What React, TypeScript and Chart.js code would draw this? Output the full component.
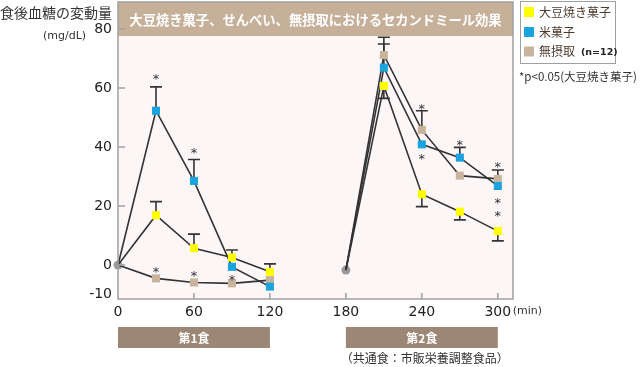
import { useEffect, useRef } from "react";
import { Chart, registerables } from "chart.js";

Chart.register(...registerables);

// ---- data ----
const mealTimes1 = [0, 30, 60, 90, 120];
const mealTimes2 = [180, 210, 240, 270, 300];
const xTickValues = [0, 60, 120, 180, 240, 300];
const yTickValues = [-10, 0, 20, 40, 60, 80];

const seriesNames = ["大豆焼き菓子", "米菓子", "無摂取"];
const seriesColors = ["#ffff00", "#1aa3df", "#c8b49c"];

const soyMeal1 = [0, 16.9, 5.7, 2.6, -2.3];
const soyMeal2 = [-1.7, 60.7, 24.0, 18.1, 11.5];
const riceMeal1 = [0, 52.3, 28.5, -0.6, -7.3];
const riceMeal2 = [-1.7, 66.9, 40.9, 36.4, 26.8];
const noneMeal1 = [0, -4.5, -5.9, -6.2, -5.1];
const noneMeal2 = [-1.7, 71.2, 45.8, 30.3, 29.2];

// error bars: positive = drawn upward, negative = drawn downward
const soyErr1 = [null, 4.6, 4.8, 2.5, 2.7];
const soyErr2 = [null, -4.2, -4.2, -2.8, -3.3];
const riceErr1 = [null, 8.1, 7.3, null, null];
const riceErr2 = [null, 8.0, null, 3.5, null];
const noneErr1 = [null, null, null, null, null];
const noneErr2 = [null, 6.0, 6.5, null, 3.0];

const baselineTimes = [0, 180];
const baselineValues = [0, -1.7];

// significance markers (*)
const sigTimes = [30, 60, 30, 60, 90, 240, 240, 270, 300, 300, 300];
const sigValues = [64.4, 39.0, -1.1, -2.5, -4.0, 54.2, 37.3, 41.8, 34.5, 22.3, 17.7];

const mealLabels = ["第1食", "第2食"];
const mealStarts = [0, 180];
const mealEnds = [120, 300];

const titleText = "大豆焼き菓子、せんべい、無摂取におけるセカンドミール効果";
const yTitle = "食後血糖の変動量";
const yUnit = "(mg/dL)";
const noteText = "*p<0.05(大豆焼き菓子)";
const nText = "(n=12)";
const xUnit = "(min)";
const footText = "（共通食：市販栄養調整食品）";

const meal1Series = [soyMeal1, riceMeal1, noneMeal1];
const meal2Series = [soyMeal2, riceMeal2, noneMeal2];
const err1Series = [soyErr1, riceErr1, noneErr1];
const err2Series = [soyErr2, riceErr2, noneErr2];

const JP = '"Noto Sans CJK JP", "Noto Sans", sans-serif';
const NUM = '"DejaVu Sans", sans-serif';

function buildPoints(a: number[], b: number[]) {
  const pts: { x: number; y: number | null }[] = [];
  mealTimes1.forEach((t, i) => pts.push({ x: t, y: a[i] }));
  pts.push({ x: (mealTimes1[mealTimes1.length - 1] + mealTimes2[0]) / 2, y: null });
  mealTimes2.forEach((t, i) => pts.push({ x: t, y: b[i] }));
  return pts;
}

const decor = {
  id: "decor",
  beforeDraw(chart: any) {
    const { ctx, chartArea: a } = chart;
    ctx.save();
    ctx.fillStyle = "#fdf6f7";
    ctx.fillRect(a.left, 2, a.right - a.left, a.bottom - 2);
    ctx.restore();
  },
  beforeDatasetsDraw(chart: any) {
    const { ctx } = chart;
    const xs = chart.scales.x;
    const ys = chart.scales.y;
    ctx.save();
    ctx.strokeStyle = "#333";
    ctx.lineWidth = 1.6;
    const drawErr = (times: number[], vals: number[], errs: (number | null)[]) => {
      times.forEach((t, i) => {
        const e = errs[i];
        if (e === null || e === undefined) return;
        const x = xs.getPixelForValue(t);
        const y0 = ys.getPixelForValue(vals[i]);
        const y1 = ys.getPixelForValue(vals[i] + e);
        ctx.beginPath();
        ctx.moveTo(x, y0);
        ctx.lineTo(x, y1);
        ctx.moveTo(x - 6, y1);
        ctx.lineTo(x + 6, y1);
        ctx.stroke();
      });
    };
    for (let s = 0; s < 3; s++) {
      drawErr(mealTimes1, meal1Series[s], err1Series[s]);
      drawErr(mealTimes2, meal2Series[s], err2Series[s]);
    }
    ctx.restore();
  },
  afterDatasetsDraw(chart: any) {
    const { ctx, chartArea: a } = chart;
    const xs = chart.scales.x;
    const ys = chart.scales.y;
    ctx.save();
    // title band
    ctx.fillStyle = "#c6b09a";
    ctx.fillRect(a.left, 2, a.right - a.left, 34);
    ctx.fillStyle = "#ffffff";
    ctx.font = `bold 13.3px ${JP}`;
    ctx.textAlign = "center";
    ctx.textBaseline = "middle";
    ctx.fillText(titleText, (a.left + a.right) / 2, 20);
    // box
    ctx.strokeStyle = "#a0a0a0";
    ctx.lineWidth = 1.5;
    ctx.strokeRect(a.left, 2, a.right - a.left, a.bottom - 2);
    // inner ticks
    ctx.beginPath();
    yTickValues.forEach((v) => {
      if (v === yTickValues[0]) return;
      const y = ys.getPixelForValue(v);
      ctx.moveTo(a.left, y);
      ctx.lineTo(a.left + 7, y);
    });
    xTickValues.forEach((v) => {
      if (v === xTickValues[0]) return;
      const x = xs.getPixelForValue(v);
      ctx.moveTo(x, a.bottom);
      ctx.lineTo(x, a.bottom - 6);
    });
    ctx.stroke();
    // asterisks
    ctx.fillStyle = "#333";
    ctx.font = `13px ${NUM}`;
    ctx.textAlign = "center";
    ctx.textBaseline = "alphabetic";
    sigTimes.forEach((t, i) => {
      const x = xs.getPixelForValue(t);
      const y = ys.getPixelForValue(sigValues[i]);
      ctx.fillText("*", x, y + 7.5);
    });
    ctx.restore();
  },
  afterDraw(chart: any) {
    const { ctx } = chart;
    const xs = chart.scales.x;
    ctx.save();
    // left titles
    ctx.fillStyle = "#333";
    ctx.textBaseline = "middle";
    ctx.textAlign = "left";
    ctx.font = `14px ${JP}`;
    ctx.fillText(yTitle, 0, 13);
    ctx.font = `11px ${NUM}`;
    ctx.fillText(yUnit, 43, 36);
    // x unit
    ctx.font = `11px ${NUM}`;
    ctx.fillText(xUnit, xs.getPixelForValue(xTickValues[xTickValues.length - 1]) + 15, 311);
    // legend
    ctx.strokeStyle = "#a0a0a0";
    ctx.lineWidth = 1;
    ctx.strokeRect(520.5, 1.5, 95, 62);
    const ly = [12, 32, 51.5];
    seriesNames.forEach((n, i) => {
      ctx.fillStyle = seriesColors[i];
      ctx.fillRect(524, ly[i] - 5, 10, 10);
      ctx.fillStyle = "#4a3a2e";
      ctx.font = `12px ${JP}`;
      ctx.fillText(n, 539, ly[i]);
    });
    ctx.fillStyle = "#222";
    ctx.font = `bold 9.5px ${NUM}`;
    ctx.fillText(nText, 581, ly[2] + 1);
    // note
    ctx.fillStyle = "#333";
    ctx.font = `11.5px ${JP}`;
    ctx.fillText(noteText, 519, 77);
    // meal bars
    mealLabels.forEach((m, i) => {
      const x0 = xs.getPixelForValue(mealStarts[i]);
      const x1 = xs.getPixelForValue(mealEnds[i]);
      ctx.fillStyle = "#9c8676";
      ctx.fillRect(x0, 327, x1 - x0, 21);
      ctx.fillStyle = "#ffffff";
      ctx.font = `bold 12px ${JP}`;
      ctx.textAlign = "center";
      ctx.fillText(m, (x0 + x1) / 2, 338);
    });
    // footnote
    ctx.fillStyle = "#333";
    ctx.font = `12px ${JP}`;
    ctx.textAlign = "center";
    const fx = (xs.getPixelForValue(mealStarts[1]) + xs.getPixelForValue(mealEnds[1])) / 2 + 3;
    ctx.fillText(footText, fx, 358);
    ctx.restore();
  },
};

export default function App() {
  const ref = useRef<HTMLCanvasElement | null>(null);
  useEffect(() => {
    if (!ref.current) return;
    const isBase = (c: any) => c.raw && baselineTimes.includes(c.raw.x);
    const datasets: any[] = seriesNames.map((name, s) => ({
      label: name,
      data: buildPoints(meal1Series[s], meal2Series[s]),
      borderColor: "#333",
      borderWidth: 1.6,
      backgroundColor: seriesColors[s],
      pointBackgroundColor: seriesColors[s],
      pointBorderWidth: 0,
      pointStyle: "rect",
      pointRadius: (c: any) => (isBase(c) ? 0 : 5.7),
      pointHoverRadius: (c: any) => (isBase(c) ? 0 : 5.7),
      spanGaps: false,
      tension: 0,
      clip: false,
    }));
    datasets.push({
      label: "baseline",
      data: baselineTimes.map((t, i) => ({ x: t, y: baselineValues[i] })),
      showLine: false,
      pointStyle: "circle",
      pointRadius: 4.5,
      pointBackgroundColor: "#9a9a9a",
      pointBorderWidth: 0,
      clip: false,
    });
    const chart = new Chart(ref.current, {
      type: "line",
      data: { datasets },
      plugins: [decor],
      options: {
        animation: false,
        responsive: false,
        layout: { padding: { left: 0, right: 128, top: 29, bottom: 0 } },
        plugins: { legend: { display: false }, tooltip: { enabled: false } },
        scales: {
          x: {
            type: "linear",
            min: 0,
            max: 312,
            afterBuildTicks: (s: any) => {
              s.ticks = xTickValues.map((v) => ({ value: v }));
            },
            afterFit: (s: any) => {
              s.height = 68;
            },
            grid: { display: false, drawTicks: false },
            border: { display: false },
            ticks: {
              padding: 5,
              color: "#222",
              font: { family: NUM, size: 14 },
              maxRotation: 0,
              autoSkip: false,
              callback: (v: any) => String(v),
            },
          },
          y: {
            type: "linear",
            min: -11.5,
            max: 80,
            afterBuildTicks: (s: any) => {
              s.ticks = yTickValues.map((v) => ({ value: v }));
            },
            afterFit: (s: any) => {
              s.width = 118;
            },
            grid: { display: false, drawTicks: false },
            border: { display: false },
            ticks: {
              padding: 6,
              color: "#222",
              font: { family: NUM, size: 14 },
              autoSkip: false,
              callback: (v: any) => String(v),
            },
          },
        },
      },
    });
    return () => chart.destroy();
  }, []);
  return (
    <div style={{ position: "fixed", left: 0, top: 0, width: 641, height: 367, background: "#fff" }}>
      <canvas ref={ref} width={641} height={367} />
    </div>
  );
}
